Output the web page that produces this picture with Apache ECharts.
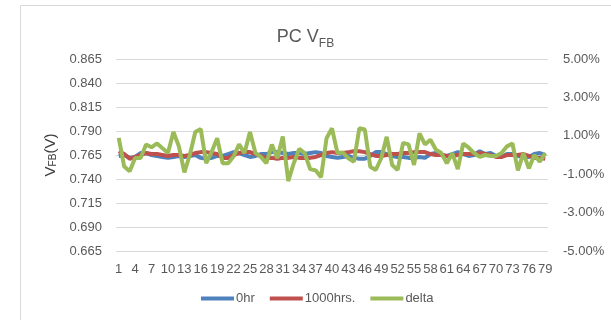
<!DOCTYPE html>
<html>
<head>
<meta charset="utf-8">
<script src="https://cdn.jsdelivr.net/npm/echarts@6/dist/echarts.min.js"></script>
<style>
  html, body { margin: 0; padding: 0; background: #ffffff; }
  #chart { width: 611px; height: 320px; }
</style>
</head>
<body>
<div id="chart"></div>
<script>
// Sample index 1..79
const categories = Array.from({ length: 79 }, (_, i) => String(i + 1));

// Feedback voltage (V) at 0 hours
const hr0 = [
  0.764, 0.765, 0.762, 0.763, 0.767, 0.767, 0.765, 0.764, 0.763, 0.762,
  0.763, 0.764, 0.763, 0.764, 0.765, 0.762, 0.761, 0.762, 0.764, 0.764,
  0.766, 0.768, 0.767, 0.765, 0.763, 0.764, 0.766, 0.766, 0.768, 0.768,
  0.767, 0.766, 0.767, 0.767, 0.766, 0.767, 0.768, 0.767, 0.764, 0.763,
  0.762, 0.763, 0.764, 0.762, 0.761, 0.761, 0.764, 0.768, 0.768, 0.766,
  0.764, 0.763, 0.763, 0.762, 0.762, 0.763, 0.762, 0.766, 0.767, 0.765,
  0.764, 0.766, 0.768, 0.766, 0.764, 0.765, 0.769, 0.766, 0.767, 0.764,
  0.763, 0.766, 0.766, 0.764, 0.763, 0.763, 0.766, 0.767, 0.765
];

// Feedback voltage (V) after 1000 hours
const hr1000 = [
  0.769, 0.766, 0.761, 0.763, 0.765, 0.767, 0.766, 0.766, 0.765, 0.764,
  0.765, 0.765, 0.764, 0.765, 0.767, 0.768, 0.768, 0.767, 0.766, 0.762,
  0.762, 0.765, 0.767, 0.768, 0.768, 0.766, 0.764, 0.762, 0.762, 0.761,
  0.762, 0.762, 0.763, 0.762, 0.762, 0.762, 0.763, 0.765, 0.767, 0.768,
  0.767, 0.767, 0.768, 0.769, 0.769, 0.768, 0.766, 0.764, 0.764, 0.765,
  0.766, 0.766, 0.767, 0.767, 0.768, 0.768, 0.768, 0.766, 0.765, 0.765,
  0.764, 0.764, 0.765, 0.766, 0.766, 0.766, 0.767, 0.766, 0.765, 0.763,
  0.763, 0.765, 0.765, 0.765, 0.766, 0.764, 0.762, 0.762, 0.761
];

// Relative change (%)
const deltaPct = [
  0.89, -0.60, -0.85, -0.15, -0.15, 0.55, 0.40, 0.60, 0.35, 0.10,
  1.20, 0.45, -0.90, 0.00, 1.20, 1.35, -0.43, 0.17, 0.87, -0.43,
  -0.43, -0.08, 0.55, 0.10, 1.20, 0.10, -0.10, -0.43, 0.55, -0.17,
  0.97, -1.36, -0.43, 0.32, 0.10, -0.73, -0.80, -1.16, 0.87, 1.39,
  0.10, 0.13, -0.17, -0.35, 1.39, 1.33, -0.61, -0.78, -0.17, 0.95,
  -0.52, -0.78, 0.63, 0.55, -0.52, 1.13, 0.55, 0.79, 0.27, 0.10,
  -0.43, 0.10, -0.73, 0.60, 0.38, 0.10, -0.10, 0.00, -0.05, -0.05,
  0.10, 0.45, 0.60, -0.80, 0.10, -0.70, 0.00, -0.35, 0.10
];

const seriesNames = ['0hr', '1000hrs.', 'delta'];
const seriesColors = ['#4F81BD', '#C0504D', '#9BBB59'];

const FONT = 'Liberation Sans';
const TEXT = '#595959';
const GRID = '#d9d9d9';

const chart = echarts.init(document.getElementById('chart'), null, { renderer: 'canvas' });

chart.setOption({
  animation: false,
  backgroundColor: '#ffffff',
  textStyle: { fontFamily: FONT },
  graphic: [{
    type: 'rect',
    shape: { x: 20.5, y: 5.5, width: 640, height: 340 },
    style: { fill: 'none', stroke: GRID, lineWidth: 1 },
    silent: true,
    z: -10
  }],
  title: {
    text: '{m|PC V}{s|FB}',
    left: 'center',
    top: 23,
    textStyle: {
      fontWeight: 'normal',
      rich: {
        m: { fontFamily: FONT, fontSize: 18, fontWeight: 'normal', color: TEXT, verticalAlign: 'bottom' },
        s: { fontFamily: FONT, fontSize: 12, fontWeight: 'normal', color: TEXT, verticalAlign: 'bottom', padding: [0, 0, -4, 0] }
      }
    }
  },
  legend: {
    data: seriesNames,
    left: 201,
    top: 292,
    padding: 0,
    icon: 'rect',
    itemWidth: 33,
    itemHeight: 4,
    itemGap: 15,
    textStyle: { fontFamily: FONT, fontSize: 13, color: TEXT, padding: [0, 0, 0, -3] }
  },
  grid: { left: 116, right: 63, top: 59, bottom: 69, containLabel: false },
  xAxis: {
    type: 'category',
    data: categories,
    boundaryGap: true,
    axisLine: { show: true, lineStyle: { color: GRID } },
    axisTick: { show: false },
    axisLabel: {
      interval: 2,
      hideOverlap: false,
      margin: 12,
      fontFamily: FONT,
      fontSize: 13,
      color: TEXT
    },
    splitLine: { show: false }
  },
  yAxis: [{
    type: 'value',
    min: 0.665,
    max: 0.865,
    interval: 0.025,
    position: 'left',
    name: '{v|V}{s|FB}{v|(V)}',
    nameLocation: 'middle',
    nameGap: 47,
    nameRotate: 90,
    nameTextStyle: {
      rich: {
        v: { fontFamily: FONT, fontSize: 15, color: '#404040' },
        s: { fontFamily: FONT, fontSize: 10, color: '#404040', padding: [0, 0, -5, 0] }
      }
    },
    axisLine: { show: false },
    axisTick: { show: false },
    axisLabel: {
      margin: 14,
      fontFamily: FONT,
      fontSize: 13,
      color: TEXT,
      formatter: v => v.toFixed(3)
    },
    splitLine: { show: true, lineStyle: { color: GRID, width: 1 } }
  }, {
    type: 'value',
    min: -5,
    max: 5,
    interval: 2,
    position: 'right',
    axisLine: { show: false },
    axisTick: { show: false },
    axisLabel: {
      margin: 15,
      fontFamily: FONT,
      fontSize: 13,
      color: TEXT,
      formatter: v => v.toFixed(2) + '%'
    },
    splitLine: { show: false }
  }],
  series: [{
    name: seriesNames[0],
    type: 'line',
    data: hr0,
    yAxisIndex: 0,
    symbol: 'none',
    lineStyle: { color: seriesColors[0], width: 4 },
    itemStyle: { color: seriesColors[0] },
    z: 2
  }, {
    name: seriesNames[1],
    type: 'line',
    data: hr1000,
    yAxisIndex: 0,
    symbol: 'none',
    lineStyle: { color: seriesColors[1], width: 4 },
    itemStyle: { color: seriesColors[1] },
    z: 3
  }, {
    name: seriesNames[2],
    type: 'line',
    data: deltaPct,
    yAxisIndex: 1,
    symbol: 'none',
    lineStyle: { color: seriesColors[2], width: 4 },
    itemStyle: { color: seriesColors[2] },
    z: 4
  }]
});
</script>
</body>
</html>
